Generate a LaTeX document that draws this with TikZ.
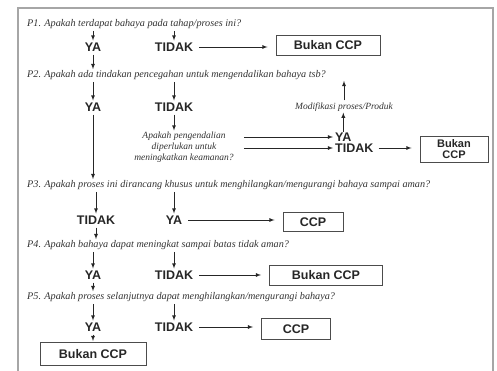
\documentclass[tikz,border=0pt]{standalone}
\usepackage{fontspec}
\setmainfont{Liberation Serif}
\setsansfont{Liberation Sans}
\usetikzlibrary{calc}

\begin{document}
\begin{tikzpicture}[x=1pt,y=-1pt,
  tanya/.style={anchor=west,inner sep=0pt,text=black!80,font=\fontsize{10.2}{12}\selectfont\itshape},
  catatan/.style={inner sep=0pt,text=black!80,font=\fontsize{9.5}{11}\selectfont\itshape},
  jawab/.style={inner sep=1pt,text=black!85,font=\fontsize{12.5}{14}\selectfont\sffamily\bfseries},
  kotak/.style={draw=black!70,line width=0.9pt,inner sep=2pt,text=black!85,font=\fontsize{12.5}{13}\selectfont\sffamily\bfseries},
  panah/.style={-latex,black!85,line width=0.8pt,shorten <=2pt,shorten >=1pt},
  panahk/.style={panah,shorten <=5pt,shorten >=8pt}]
\useasboundingbox (0,0) rectangle (497,370);
% bingkai
\draw[black!35,line width=1.6pt] (18,372) -- (18,8) -- (493,8) -- (493,372);

% P1
\node[tanya] (q1) at (27,24) {P1. Apakah terdapat bahaya pada tahap/proses ini?};
\node[jawab] (ya1) at (93,47) {YA};
\node[jawab] (tidak1) at (174,47) {TIDAK};
\node[kotak,minimum width=104pt,minimum height=20pt] (bukan1) at (328,45) {Bukan CCP};

% P2
\node[tanya] (q2) at (27,75) {P2. Apakah ada tindakan pencegahan untuk mengendalikan bahaya tsb?};
\node[jawab] (ya2) at (93,107) {YA};
\node[jawab] (tidak2) at (174,107) {TIDAK};
\node[catatan] (modif) at (344,107) {Modifikasi proses/Produk};
\node[catatan,align=center] (kendali) at (184,147) {Apakah pengendalian\\diperlukan untuk\\meningkatkan keamanan?};
\node[jawab,anchor=west,inner sep=0pt] (ya2b) at (335,137) {YA};
\node[jawab,anchor=west,inner sep=0pt] (tidak2b) at (335,148) {TIDAK};
\node[kotak,align=center,minimum width=68pt,minimum height=26pt,font=\fontsize{11}{11}\selectfont\sffamily\bfseries] (bukan2) at (454,149) {Bukan\\CCP};

% P3
\node[tanya] (q3) at (27,185) {P3. Apakah proses ini dirancang khusus untuk menghilangkan/mengurangi bahaya sampai aman?};
\node[jawab] (tidak3) at (96,220) {TIDAK};
\node[jawab] (ya3) at (174,220) {YA};
\node[kotak,minimum width=60pt,minimum height=19pt] (ccp3) at (313,222) {CCP};

% P4
\node[tanya] (q4) at (27,245) {P4. Apakah bahaya dapat meningkat sampai batas tidak aman?};
\node[jawab] (ya4) at (93,275) {YA};
\node[jawab] (tidak4) at (174,275) {TIDAK};
\node[kotak,minimum width=113pt,minimum height=20pt] (bukan4) at (326,275) {Bukan CCP};

% P5
\node[tanya] (q5) at (27,297) {P5. Apakah proses selanjutnya dapat menghilangkan/mengurangi bahaya?};
\node[jawab] (ya5) at (93,327) {YA};
\node[jawab] (tidak5) at (174,327) {TIDAK};
\node[kotak,minimum width=69pt,minimum height=21pt] (ccp5) at (296,329) {CCP};
\node[kotak,minimum width=106pt,minimum height=23pt] (bukan5) at (93,354) {Bukan CCP};

% panah dari pertanyaan ke jawaban
\foreach \q/\ja/\jb in {q1/ya1/tidak1, q2/ya2/tidak2, q3/tidak3/ya3, q4/ya4/tidak4, q5/ya5/tidak5}
  {
  \draw[panah] (\ja |- \q.south) -- (\ja);
  \draw[panah] (\jb |- \q.south) -- (\jb);
  }

% panah ke pertanyaan berikut
\draw[panah] (ya1) -- (ya1 |- q2.north);
\draw[panah] (ya2) -- (ya2 |- q3.north);
\draw[panah] (tidak3) -- (tidak3 |- q4.north);
\draw[panah] (ya4) -- (ya4 |- q5.north);
\draw[panah] (ya5) -- (bukan5);

% panah ke kotak
\draw[panahk] (tidak1) -- (bukan1.west |- tidak1);
\draw[panahk] (ya3) -- (ccp3.west |- ya3);
\draw[panahk] (tidak4) -- (bukan4);
\draw[panahk] (tidak5) -- (ccp5.west |- tidak5);
\draw[panahk] (tidak2b) -- (bukan2.west |- tidak2b);

% cabang P2 TIDAK
\draw[panah] (tidak2) -- (tidak2 |- kendali.north);
\draw[panahk,shorten <=10pt,shorten >=2pt] (kendali.east |- ya2b) -- (ya2b);
\draw[panahk,shorten <=10pt,shorten >=2pt] (kendali.east |- tidak2b) -- (tidak2b);
\draw[panah,shorten <=1pt] (ya2b.north) -- (ya2b.north |- modif.south);
\draw[panah] (modif.north) -- (modif.north |- q2.south);
\end{tikzpicture}
\end{document}
